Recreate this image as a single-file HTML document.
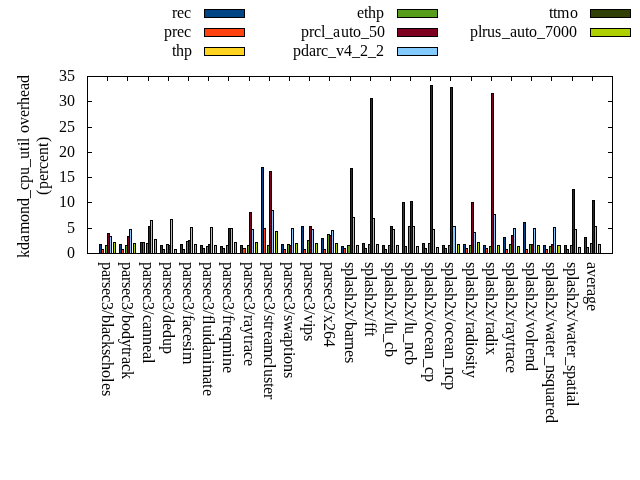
<!DOCTYPE html>
<html><head><meta charset="utf-8"><title>kdamond_cpu_util overhead</title>
<style>
html,body{margin:0;padding:0;background:#fff}
body{width:640px;height:480px;overflow:hidden}
svg{display:block;will-change:transform}
text{font-family:"Liberation Serif",serif;font-size:16px;fill:#000}
</style></head><body>
<svg width="640" height="480" viewBox="0 0 640 480">
<rect x="0" y="0" width="640" height="480" fill="#fff"/>
<g shape-rendering="crispEdges">
<rect x="99" y="244" width="3" height="10" fill="#000"/>
<rect x="100" y="245" width="1" height="8" fill="#004586"/>
<rect x="101" y="249" width="3" height="5" fill="#000"/>
<rect x="102" y="250" width="1" height="3" fill="#FF420E"/>
<rect x="105" y="245" width="3" height="9" fill="#000"/>
<rect x="106" y="246" width="1" height="7" fill="#579D1C"/>
<rect x="107" y="233" width="3" height="21" fill="#000"/>
<rect x="108" y="234" width="1" height="19" fill="#7E0021"/>
<rect x="109" y="236" width="3" height="18" fill="#000"/>
<rect x="110" y="237" width="1" height="16" fill="#83CAFF"/>
<rect x="113" y="242" width="3" height="12" fill="#000"/>
<rect x="114" y="243" width="1" height="10" fill="#AECF00"/>
<rect x="119" y="244" width="3" height="10" fill="#000"/>
<rect x="120" y="245" width="1" height="8" fill="#004586"/>
<rect x="121" y="249" width="3" height="5" fill="#000"/>
<rect x="122" y="250" width="1" height="3" fill="#FF420E"/>
<rect x="125" y="245" width="3" height="9" fill="#000"/>
<rect x="126" y="246" width="1" height="7" fill="#579D1C"/>
<rect x="127" y="236" width="3" height="18" fill="#000"/>
<rect x="128" y="237" width="1" height="16" fill="#7E0021"/>
<rect x="129" y="229" width="3" height="25" fill="#000"/>
<rect x="130" y="230" width="1" height="23" fill="#83CAFF"/>
<rect x="133" y="243" width="3" height="11" fill="#000"/>
<rect x="134" y="244" width="1" height="9" fill="#AECF00"/>
<rect x="140" y="242" width="3" height="12" fill="#000"/>
<rect x="141" y="243" width="1" height="10" fill="#004586"/>
<rect x="142" y="242" width="3" height="12" fill="#000"/>
<rect x="143" y="243" width="1" height="10" fill="#FF420E"/>
<rect x="146" y="243" width="3" height="11" fill="#000"/>
<rect x="147" y="244" width="1" height="9" fill="#579D1C"/>
<rect x="148" y="226" width="3" height="28" fill="#000"/>
<rect x="149" y="227" width="1" height="26" fill="#7E0021"/>
<rect x="150" y="220" width="3" height="34" fill="#000"/>
<rect x="151" y="221" width="1" height="32" fill="#83CAFF"/>
<rect x="154" y="239" width="3" height="15" fill="#000"/>
<rect x="155" y="240" width="1" height="13" fill="#AECF00"/>
<rect x="160" y="245" width="3" height="9" fill="#000"/>
<rect x="161" y="246" width="1" height="7" fill="#004586"/>
<rect x="162" y="249" width="3" height="5" fill="#000"/>
<rect x="163" y="250" width="1" height="3" fill="#FF420E"/>
<rect x="166" y="244" width="3" height="10" fill="#000"/>
<rect x="167" y="245" width="1" height="8" fill="#579D1C"/>
<rect x="168" y="245" width="3" height="9" fill="#000"/>
<rect x="169" y="246" width="1" height="7" fill="#7E0021"/>
<rect x="170" y="219" width="3" height="35" fill="#000"/>
<rect x="171" y="220" width="1" height="33" fill="#83CAFF"/>
<rect x="174" y="249" width="3" height="5" fill="#000"/>
<rect x="175" y="250" width="1" height="3" fill="#AECF00"/>
<rect x="180" y="244" width="3" height="10" fill="#000"/>
<rect x="181" y="245" width="1" height="8" fill="#004586"/>
<rect x="182" y="249" width="3" height="5" fill="#000"/>
<rect x="183" y="250" width="1" height="3" fill="#FF420E"/>
<rect x="186" y="241" width="3" height="13" fill="#000"/>
<rect x="187" y="242" width="1" height="11" fill="#579D1C"/>
<rect x="188" y="240" width="3" height="14" fill="#000"/>
<rect x="189" y="241" width="1" height="12" fill="#7E0021"/>
<rect x="190" y="227" width="3" height="27" fill="#000"/>
<rect x="191" y="228" width="1" height="25" fill="#83CAFF"/>
<rect x="194" y="244" width="3" height="10" fill="#000"/>
<rect x="195" y="245" width="1" height="8" fill="#AECF00"/>
<rect x="200" y="245" width="3" height="9" fill="#000"/>
<rect x="201" y="246" width="1" height="7" fill="#004586"/>
<rect x="202" y="248" width="3" height="6" fill="#000"/>
<rect x="203" y="249" width="1" height="4" fill="#FF420E"/>
<rect x="206" y="246" width="3" height="8" fill="#000"/>
<rect x="207" y="247" width="1" height="6" fill="#579D1C"/>
<rect x="208" y="244" width="3" height="10" fill="#000"/>
<rect x="209" y="245" width="1" height="8" fill="#7E0021"/>
<rect x="210" y="227" width="3" height="27" fill="#000"/>
<rect x="211" y="228" width="1" height="25" fill="#83CAFF"/>
<rect x="214" y="245" width="3" height="9" fill="#000"/>
<rect x="215" y="246" width="1" height="7" fill="#AECF00"/>
<rect x="220" y="246" width="3" height="8" fill="#000"/>
<rect x="221" y="247" width="1" height="6" fill="#004586"/>
<rect x="222" y="248" width="3" height="6" fill="#000"/>
<rect x="223" y="249" width="1" height="4" fill="#FF420E"/>
<rect x="226" y="245" width="3" height="9" fill="#000"/>
<rect x="227" y="246" width="1" height="7" fill="#579D1C"/>
<rect x="228" y="228" width="3" height="26" fill="#000"/>
<rect x="229" y="229" width="1" height="24" fill="#7E0021"/>
<rect x="230" y="228" width="3" height="26" fill="#000"/>
<rect x="231" y="229" width="1" height="24" fill="#83CAFF"/>
<rect x="234" y="242" width="3" height="12" fill="#000"/>
<rect x="235" y="243" width="1" height="10" fill="#AECF00"/>
<rect x="240" y="245" width="3" height="9" fill="#000"/>
<rect x="241" y="246" width="1" height="7" fill="#004586"/>
<rect x="242" y="248" width="4" height="6" fill="#000"/>
<rect x="243" y="249" width="2" height="4" fill="#FF420E"/>
<rect x="247" y="245" width="3" height="9" fill="#000"/>
<rect x="248" y="246" width="1" height="7" fill="#579D1C"/>
<rect x="249" y="212" width="3" height="42" fill="#000"/>
<rect x="250" y="213" width="1" height="40" fill="#7E0021"/>
<rect x="251" y="229" width="3" height="25" fill="#000"/>
<rect x="252" y="230" width="1" height="23" fill="#83CAFF"/>
<rect x="255" y="242" width="3" height="12" fill="#000"/>
<rect x="256" y="243" width="1" height="10" fill="#AECF00"/>
<rect x="261" y="167" width="3" height="87" fill="#000"/>
<rect x="262" y="168" width="1" height="85" fill="#004586"/>
<rect x="263" y="228" width="3" height="26" fill="#000"/>
<rect x="264" y="229" width="1" height="24" fill="#FF420E"/>
<rect x="267" y="245" width="3" height="9" fill="#000"/>
<rect x="268" y="246" width="1" height="7" fill="#579D1C"/>
<rect x="269" y="171" width="3" height="83" fill="#000"/>
<rect x="270" y="172" width="1" height="81" fill="#7E0021"/>
<rect x="271" y="210" width="3" height="44" fill="#000"/>
<rect x="272" y="211" width="1" height="42" fill="#83CAFF"/>
<rect x="275" y="231" width="3" height="23" fill="#000"/>
<rect x="276" y="232" width="1" height="21" fill="#AECF00"/>
<rect x="281" y="244" width="3" height="10" fill="#000"/>
<rect x="282" y="245" width="1" height="8" fill="#004586"/>
<rect x="283" y="249" width="3" height="5" fill="#000"/>
<rect x="284" y="250" width="1" height="3" fill="#FF420E"/>
<rect x="287" y="244" width="3" height="10" fill="#000"/>
<rect x="288" y="245" width="1" height="8" fill="#579D1C"/>
<rect x="289" y="245" width="3" height="9" fill="#000"/>
<rect x="290" y="246" width="1" height="7" fill="#7E0021"/>
<rect x="291" y="228" width="3" height="26" fill="#000"/>
<rect x="292" y="229" width="1" height="24" fill="#83CAFF"/>
<rect x="295" y="243" width="3" height="11" fill="#000"/>
<rect x="296" y="244" width="1" height="9" fill="#AECF00"/>
<rect x="301" y="226" width="3" height="28" fill="#000"/>
<rect x="302" y="227" width="1" height="26" fill="#004586"/>
<rect x="303" y="249" width="3" height="5" fill="#000"/>
<rect x="304" y="250" width="1" height="3" fill="#FF420E"/>
<rect x="307" y="240" width="3" height="14" fill="#000"/>
<rect x="308" y="241" width="1" height="12" fill="#579D1C"/>
<rect x="309" y="226" width="3" height="28" fill="#000"/>
<rect x="310" y="227" width="1" height="26" fill="#7E0021"/>
<rect x="311" y="229" width="3" height="25" fill="#000"/>
<rect x="312" y="230" width="1" height="23" fill="#83CAFF"/>
<rect x="315" y="243" width="3" height="11" fill="#000"/>
<rect x="316" y="244" width="1" height="9" fill="#AECF00"/>
<rect x="321" y="238" width="3" height="16" fill="#000"/>
<rect x="322" y="239" width="1" height="14" fill="#004586"/>
<rect x="323" y="249" width="3" height="5" fill="#000"/>
<rect x="324" y="250" width="1" height="3" fill="#FF420E"/>
<rect x="327" y="234" width="3" height="20" fill="#000"/>
<rect x="328" y="235" width="1" height="18" fill="#579D1C"/>
<rect x="329" y="235" width="3" height="19" fill="#000"/>
<rect x="330" y="236" width="1" height="17" fill="#7E0021"/>
<rect x="331" y="230" width="3" height="24" fill="#000"/>
<rect x="332" y="231" width="1" height="22" fill="#83CAFF"/>
<rect x="335" y="243" width="3" height="11" fill="#000"/>
<rect x="336" y="244" width="1" height="9" fill="#AECF00"/>
<rect x="341" y="246" width="3" height="8" fill="#000"/>
<rect x="342" y="247" width="1" height="6" fill="#004586"/>
<rect x="343" y="248" width="3" height="6" fill="#000"/>
<rect x="344" y="249" width="1" height="4" fill="#FF420E"/>
<rect x="347" y="245" width="4" height="9" fill="#000"/>
<rect x="348" y="246" width="2" height="7" fill="#579D1C"/>
<rect x="350" y="168" width="3" height="86" fill="#000"/>
<rect x="351" y="169" width="1" height="84" fill="#7E0021"/>
<rect x="352" y="217" width="3" height="37" fill="#000"/>
<rect x="353" y="218" width="1" height="35" fill="#83CAFF"/>
<rect x="356" y="245" width="3" height="9" fill="#000"/>
<rect x="357" y="246" width="1" height="7" fill="#AECF00"/>
<rect x="362" y="243" width="3" height="11" fill="#000"/>
<rect x="363" y="244" width="1" height="9" fill="#004586"/>
<rect x="364" y="248" width="3" height="6" fill="#000"/>
<rect x="365" y="249" width="1" height="4" fill="#FF420E"/>
<rect x="368" y="244" width="3" height="10" fill="#000"/>
<rect x="369" y="245" width="1" height="8" fill="#579D1C"/>
<rect x="370" y="98" width="3" height="156" fill="#000"/>
<rect x="371" y="99" width="1" height="154" fill="#7E0021"/>
<rect x="372" y="218" width="3" height="36" fill="#000"/>
<rect x="373" y="219" width="1" height="34" fill="#83CAFF"/>
<rect x="376" y="244" width="3" height="10" fill="#000"/>
<rect x="377" y="245" width="1" height="8" fill="#AECF00"/>
<rect x="382" y="245" width="3" height="9" fill="#000"/>
<rect x="383" y="246" width="1" height="7" fill="#004586"/>
<rect x="384" y="249" width="3" height="5" fill="#000"/>
<rect x="385" y="250" width="1" height="3" fill="#FF420E"/>
<rect x="388" y="245" width="3" height="9" fill="#000"/>
<rect x="389" y="246" width="1" height="7" fill="#579D1C"/>
<rect x="390" y="226" width="3" height="28" fill="#000"/>
<rect x="391" y="227" width="1" height="26" fill="#7E0021"/>
<rect x="392" y="229" width="3" height="25" fill="#000"/>
<rect x="393" y="230" width="1" height="23" fill="#83CAFF"/>
<rect x="396" y="245" width="3" height="9" fill="#000"/>
<rect x="397" y="246" width="1" height="7" fill="#AECF00"/>
<rect x="402" y="202" width="3" height="52" fill="#000"/>
<rect x="403" y="203" width="1" height="50" fill="#004586"/>
<rect x="404" y="246" width="3" height="8" fill="#000"/>
<rect x="405" y="247" width="1" height="6" fill="#FF420E"/>
<rect x="408" y="226" width="3" height="28" fill="#000"/>
<rect x="409" y="227" width="1" height="26" fill="#579D1C"/>
<rect x="410" y="201" width="3" height="53" fill="#000"/>
<rect x="411" y="202" width="1" height="51" fill="#7E0021"/>
<rect x="412" y="226" width="3" height="28" fill="#000"/>
<rect x="413" y="227" width="1" height="26" fill="#83CAFF"/>
<rect x="416" y="246" width="3" height="8" fill="#000"/>
<rect x="417" y="247" width="1" height="6" fill="#AECF00"/>
<rect x="422" y="243" width="3" height="11" fill="#000"/>
<rect x="423" y="244" width="1" height="9" fill="#004586"/>
<rect x="424" y="248" width="3" height="6" fill="#000"/>
<rect x="425" y="249" width="1" height="4" fill="#FF420E"/>
<rect x="428" y="243" width="3" height="11" fill="#000"/>
<rect x="429" y="244" width="1" height="9" fill="#579D1C"/>
<rect x="430" y="85" width="3" height="169" fill="#000"/>
<rect x="431" y="86" width="1" height="167" fill="#7E0021"/>
<rect x="432" y="229" width="3" height="25" fill="#000"/>
<rect x="433" y="230" width="1" height="23" fill="#83CAFF"/>
<rect x="436" y="247" width="3" height="7" fill="#000"/>
<rect x="437" y="248" width="1" height="5" fill="#AECF00"/>
<rect x="442" y="245" width="3" height="9" fill="#000"/>
<rect x="443" y="246" width="1" height="7" fill="#004586"/>
<rect x="444" y="248" width="3" height="6" fill="#000"/>
<rect x="445" y="249" width="1" height="4" fill="#FF420E"/>
<rect x="448" y="245" width="3" height="9" fill="#000"/>
<rect x="449" y="246" width="1" height="7" fill="#579D1C"/>
<rect x="450" y="87" width="3" height="167" fill="#000"/>
<rect x="451" y="88" width="1" height="165" fill="#7E0021"/>
<rect x="452" y="226" width="4" height="28" fill="#000"/>
<rect x="453" y="227" width="2" height="26" fill="#83CAFF"/>
<rect x="457" y="244" width="3" height="10" fill="#000"/>
<rect x="458" y="245" width="1" height="8" fill="#AECF00"/>
<rect x="463" y="244" width="3" height="10" fill="#000"/>
<rect x="464" y="245" width="1" height="8" fill="#004586"/>
<rect x="465" y="248" width="3" height="6" fill="#000"/>
<rect x="466" y="249" width="1" height="4" fill="#FF420E"/>
<rect x="469" y="245" width="3" height="9" fill="#000"/>
<rect x="470" y="246" width="1" height="7" fill="#579D1C"/>
<rect x="471" y="202" width="3" height="52" fill="#000"/>
<rect x="472" y="203" width="1" height="50" fill="#7E0021"/>
<rect x="473" y="232" width="3" height="22" fill="#000"/>
<rect x="474" y="233" width="1" height="20" fill="#83CAFF"/>
<rect x="477" y="242" width="3" height="12" fill="#000"/>
<rect x="478" y="243" width="1" height="10" fill="#AECF00"/>
<rect x="483" y="245" width="3" height="9" fill="#000"/>
<rect x="484" y="246" width="1" height="7" fill="#004586"/>
<rect x="485" y="248" width="3" height="6" fill="#000"/>
<rect x="486" y="249" width="1" height="4" fill="#FF420E"/>
<rect x="489" y="246" width="3" height="8" fill="#000"/>
<rect x="490" y="247" width="1" height="6" fill="#579D1C"/>
<rect x="491" y="93" width="3" height="161" fill="#000"/>
<rect x="492" y="94" width="1" height="159" fill="#7E0021"/>
<rect x="493" y="214" width="3" height="40" fill="#000"/>
<rect x="494" y="215" width="1" height="38" fill="#83CAFF"/>
<rect x="497" y="245" width="3" height="9" fill="#000"/>
<rect x="498" y="246" width="1" height="7" fill="#AECF00"/>
<rect x="503" y="237" width="3" height="17" fill="#000"/>
<rect x="504" y="238" width="1" height="15" fill="#004586"/>
<rect x="505" y="249" width="3" height="5" fill="#000"/>
<rect x="506" y="250" width="1" height="3" fill="#FF420E"/>
<rect x="509" y="244" width="3" height="10" fill="#000"/>
<rect x="510" y="245" width="1" height="8" fill="#579D1C"/>
<rect x="511" y="235" width="3" height="19" fill="#000"/>
<rect x="512" y="236" width="1" height="17" fill="#7E0021"/>
<rect x="513" y="228" width="3" height="26" fill="#000"/>
<rect x="514" y="229" width="1" height="24" fill="#83CAFF"/>
<rect x="517" y="246" width="3" height="8" fill="#000"/>
<rect x="518" y="247" width="1" height="6" fill="#AECF00"/>
<rect x="523" y="222" width="3" height="32" fill="#000"/>
<rect x="524" y="223" width="1" height="30" fill="#004586"/>
<rect x="525" y="249" width="3" height="5" fill="#000"/>
<rect x="526" y="250" width="1" height="3" fill="#FF420E"/>
<rect x="529" y="244" width="3" height="10" fill="#000"/>
<rect x="530" y="245" width="1" height="8" fill="#579D1C"/>
<rect x="531" y="244" width="3" height="10" fill="#000"/>
<rect x="532" y="245" width="1" height="8" fill="#7E0021"/>
<rect x="533" y="228" width="3" height="26" fill="#000"/>
<rect x="534" y="229" width="1" height="24" fill="#83CAFF"/>
<rect x="537" y="245" width="3" height="9" fill="#000"/>
<rect x="538" y="246" width="1" height="7" fill="#AECF00"/>
<rect x="543" y="245" width="3" height="9" fill="#000"/>
<rect x="544" y="246" width="1" height="7" fill="#004586"/>
<rect x="545" y="249" width="3" height="5" fill="#000"/>
<rect x="546" y="250" width="1" height="3" fill="#FF420E"/>
<rect x="549" y="246" width="3" height="8" fill="#000"/>
<rect x="550" y="247" width="1" height="6" fill="#579D1C"/>
<rect x="551" y="244" width="3" height="10" fill="#000"/>
<rect x="552" y="245" width="1" height="8" fill="#7E0021"/>
<rect x="553" y="227" width="3" height="27" fill="#000"/>
<rect x="554" y="228" width="1" height="25" fill="#83CAFF"/>
<rect x="557" y="245" width="4" height="9" fill="#000"/>
<rect x="558" y="246" width="2" height="7" fill="#AECF00"/>
<rect x="564" y="245" width="3" height="9" fill="#000"/>
<rect x="565" y="246" width="1" height="7" fill="#004586"/>
<rect x="566" y="249" width="3" height="5" fill="#000"/>
<rect x="567" y="250" width="1" height="3" fill="#FF420E"/>
<rect x="570" y="245" width="3" height="9" fill="#000"/>
<rect x="571" y="246" width="1" height="7" fill="#579D1C"/>
<rect x="572" y="189" width="3" height="65" fill="#000"/>
<rect x="573" y="190" width="1" height="63" fill="#7E0021"/>
<rect x="574" y="229" width="3" height="25" fill="#000"/>
<rect x="575" y="230" width="1" height="23" fill="#83CAFF"/>
<rect x="578" y="247" width="3" height="7" fill="#000"/>
<rect x="579" y="248" width="1" height="5" fill="#AECF00"/>
<rect x="584" y="237" width="3" height="17" fill="#000"/>
<rect x="585" y="238" width="1" height="15" fill="#004586"/>
<rect x="586" y="247" width="3" height="7" fill="#000"/>
<rect x="587" y="248" width="1" height="5" fill="#FF420E"/>
<rect x="590" y="243" width="3" height="11" fill="#000"/>
<rect x="591" y="244" width="1" height="9" fill="#579D1C"/>
<rect x="592" y="200" width="3" height="54" fill="#000"/>
<rect x="593" y="201" width="1" height="52" fill="#7E0021"/>
<rect x="594" y="226" width="3" height="28" fill="#000"/>
<rect x="595" y="227" width="1" height="26" fill="#83CAFF"/>
<rect x="598" y="244" width="3" height="10" fill="#000"/>
<rect x="599" y="245" width="1" height="8" fill="#AECF00"/>
<rect x="87" y="76" width="526" height="1" fill="#000"/>
<rect x="87" y="253" width="526" height="1" fill="#000"/>
<rect x="87" y="76" width="1" height="178" fill="#000"/>
<rect x="612" y="76" width="1" height="178" fill="#000"/>
<rect x="87" y="253" width="5" height="1" fill="#000"/>
<rect x="608" y="253" width="5" height="1" fill="#000"/>
<rect x="87" y="228" width="5" height="1" fill="#000"/>
<rect x="608" y="228" width="5" height="1" fill="#000"/>
<rect x="87" y="202" width="5" height="1" fill="#000"/>
<rect x="608" y="202" width="5" height="1" fill="#000"/>
<rect x="87" y="177" width="5" height="1" fill="#000"/>
<rect x="608" y="177" width="5" height="1" fill="#000"/>
<rect x="87" y="152" width="5" height="1" fill="#000"/>
<rect x="608" y="152" width="5" height="1" fill="#000"/>
<rect x="87" y="127" width="5" height="1" fill="#000"/>
<rect x="608" y="127" width="5" height="1" fill="#000"/>
<rect x="87" y="101" width="5" height="1" fill="#000"/>
<rect x="608" y="101" width="5" height="1" fill="#000"/>
<rect x="87" y="76" width="5" height="1" fill="#000"/>
<rect x="608" y="76" width="5" height="1" fill="#000"/>
<rect x="107" y="76" width="1" height="5" fill="#000"/>
<rect x="107" y="249" width="1" height="5" fill="#000"/>
<rect x="127" y="76" width="1" height="5" fill="#000"/>
<rect x="127" y="249" width="1" height="5" fill="#000"/>
<rect x="148" y="76" width="1" height="5" fill="#000"/>
<rect x="148" y="249" width="1" height="5" fill="#000"/>
<rect x="168" y="76" width="1" height="5" fill="#000"/>
<rect x="168" y="249" width="1" height="5" fill="#000"/>
<rect x="188" y="76" width="1" height="5" fill="#000"/>
<rect x="188" y="249" width="1" height="5" fill="#000"/>
<rect x="208" y="76" width="1" height="5" fill="#000"/>
<rect x="208" y="249" width="1" height="5" fill="#000"/>
<rect x="228" y="76" width="1" height="5" fill="#000"/>
<rect x="228" y="249" width="1" height="5" fill="#000"/>
<rect x="249" y="76" width="1" height="5" fill="#000"/>
<rect x="249" y="249" width="1" height="5" fill="#000"/>
<rect x="269" y="76" width="1" height="5" fill="#000"/>
<rect x="269" y="249" width="1" height="5" fill="#000"/>
<rect x="289" y="76" width="1" height="5" fill="#000"/>
<rect x="289" y="249" width="1" height="5" fill="#000"/>
<rect x="309" y="76" width="1" height="5" fill="#000"/>
<rect x="309" y="249" width="1" height="5" fill="#000"/>
<rect x="329" y="76" width="1" height="5" fill="#000"/>
<rect x="329" y="249" width="1" height="5" fill="#000"/>
<rect x="350" y="76" width="1" height="5" fill="#000"/>
<rect x="350" y="249" width="1" height="5" fill="#000"/>
<rect x="370" y="76" width="1" height="5" fill="#000"/>
<rect x="370" y="249" width="1" height="5" fill="#000"/>
<rect x="390" y="76" width="1" height="5" fill="#000"/>
<rect x="390" y="249" width="1" height="5" fill="#000"/>
<rect x="410" y="76" width="1" height="5" fill="#000"/>
<rect x="410" y="249" width="1" height="5" fill="#000"/>
<rect x="430" y="76" width="1" height="5" fill="#000"/>
<rect x="430" y="249" width="1" height="5" fill="#000"/>
<rect x="450" y="76" width="1" height="5" fill="#000"/>
<rect x="450" y="249" width="1" height="5" fill="#000"/>
<rect x="471" y="76" width="1" height="5" fill="#000"/>
<rect x="471" y="249" width="1" height="5" fill="#000"/>
<rect x="491" y="76" width="1" height="5" fill="#000"/>
<rect x="491" y="249" width="1" height="5" fill="#000"/>
<rect x="511" y="76" width="1" height="5" fill="#000"/>
<rect x="511" y="249" width="1" height="5" fill="#000"/>
<rect x="531" y="76" width="1" height="5" fill="#000"/>
<rect x="531" y="249" width="1" height="5" fill="#000"/>
<rect x="551" y="76" width="1" height="5" fill="#000"/>
<rect x="551" y="249" width="1" height="5" fill="#000"/>
<rect x="572" y="76" width="1" height="5" fill="#000"/>
<rect x="572" y="249" width="1" height="5" fill="#000"/>
<rect x="592" y="76" width="1" height="5" fill="#000"/>
<rect x="592" y="249" width="1" height="5" fill="#000"/>
<rect x="204" y="9" width="41" height="9" fill="#000"/>
<rect x="205" y="10" width="39" height="7" fill="#004586"/>
<rect x="204" y="28" width="41" height="9" fill="#000"/>
<rect x="205" y="29" width="39" height="7" fill="#FF420E"/>
<rect x="204" y="47" width="41" height="9" fill="#000"/>
<rect x="205" y="48" width="39" height="7" fill="#FFD320"/>
<rect x="397" y="9" width="41" height="9" fill="#000"/>
<rect x="398" y="10" width="39" height="7" fill="#579D1C"/>
<rect x="397" y="28" width="41" height="9" fill="#000"/>
<rect x="398" y="29" width="39" height="7" fill="#7E0021"/>
<rect x="397" y="47" width="41" height="9" fill="#000"/>
<rect x="398" y="48" width="39" height="7" fill="#83CAFF"/>
<rect x="590" y="9" width="41" height="9" fill="#000"/>
<rect x="591" y="10" width="39" height="7" fill="#314004"/>
<rect x="590" y="28" width="41" height="9" fill="#000"/>
<rect x="591" y="29" width="39" height="7" fill="#AECF00"/>
</g>
<text x="172 177 184" y="18">rec</text>
<text x="164 172 177 184" y="37">prec</text>
<text x="172 176 184" y="56">thp</text>
<text x="357 364 368 376" y="18">ethp</text>
<text x="301 309 314 321 325 333 341 349 353 361 369 377" y="37">prcl_auto_50</text>
<text x="293 301 309 316 321 328 336 344 352 360 368 376" y="56">pdarc_v4_2_2</text>
<text x="549 553 557 570" y="18">ttmo</text>
<text x="470 478 482 487 495 502 510 517 525 529 537 545 553 561 569" y="37">plrus_auto_7000</text>
<text x="67" y="258">0</text>
<text x="67" y="233">5</text>
<text x="59 67" y="207">10</text>
<text x="59 67" y="182">15</text>
<text x="59 67" y="157">20</text>
<text x="59 67" y="132">25</text>
<text x="59 67" y="106">30</text>
<text x="59 67" y="81">35</text>
<text transform="translate(29,258) rotate(-90)" x="0 8 16 24 36 44 52 60 68 75 83 91 99 107 112 116 120 125 133 141 148 153 161 168 175" y="0">kdamond_cpu_util overhead</text>
<text transform="translate(48,195) rotate(-90)" x="0 6 14 21 26 33 40 48 53" y="0">(percent)</text>
<text transform="translate(102,262) rotate(90)" x="0 8 15 20 26 33 40 48 53 61 65 72 79 87 93 100 108 116 121 128" y="0">parsec3/blackscholes</text>
<text transform="translate(122,262) rotate(90)" x="0 8 15 20 26 33 40 48 53 61 69 77 85 89 95 102 109" y="0">parsec3/bodytrack</text>
<text transform="translate(143,262) rotate(90)" x="0 8 15 20 26 33 40 48 53 60 67 75 83 90 97" y="0">parsec3/canneal</text>
<text transform="translate(163,262) rotate(90)" x="0 8 15 20 26 33 40 48 53 61 68 76 84" y="0">parsec3/dedup</text>
<text transform="translate(183,262) rotate(90)" x="0 8 15 20 26 33 40 48 53 58 65 72 79 85 90" y="0">parsec3/facesim</text>
<text transform="translate(203,262) rotate(90)" x="0 8 15 20 26 33 40 48 53 58 63 71 75 83 90 98 103 115 122 127" y="0">parsec3/fluidanimate</text>
<text transform="translate(223,262) rotate(90)" x="0 8 15 20 26 33 40 48 53 58 64 71 79 91 96 104" y="0">parsec3/freqmine</text>
<text transform="translate(244,262) rotate(90)" x="0 8 15 20 26 33 40 48 53 58 65 73 78 83 90 97" y="0">parsec3/raytrace</text>
<text transform="translate(264,262) rotate(90)" x="0 8 15 20 26 33 40 48 53 59 63 69 76 83 95 102 107 115 121 125 132" y="0">parsec3/streamcluster</text>
<text transform="translate(284,262) rotate(90)" x="0 8 15 20 26 33 40 48 53 59 70 77 85 90 94 102 110" y="0">parsec3/swaptions</text>
<text transform="translate(304,262) rotate(90)" x="0 8 15 20 26 33 40 48 53 61 65 73" y="0">parsec3/vips</text>
<text transform="translate(324,262) rotate(90)" x="0 8 15 20 26 33 40 48 53 61 69 77" y="0">parsec3/x264</text>
<text transform="translate(345,262) rotate(90)" x="0 6 14 18 25 31 39 47 55 60 68 75 80 88 95" y="0">splash2x/barnes</text>
<text transform="translate(365,262) rotate(90)" x="0 6 14 18 25 31 39 47 55 60 65 70" y="0">splash2x/fft</text>
<text transform="translate(385,262) rotate(90)" x="0 6 14 18 25 31 39 47 55 60 64 72 80 87" y="0">splash2x/lu_cb</text>
<text transform="translate(405,262) rotate(90)" x="0 6 14 18 25 31 39 47 55 60 64 72 80 88 95" y="0">splash2x/lu_ncb</text>
<text transform="translate(425,262) rotate(90)" x="0 6 14 18 25 31 39 47 55 60 68 75 82 89 97 105 112" y="0">splash2x/ocean_cp</text>
<text transform="translate(445,262) rotate(90)" x="0 6 14 18 25 31 39 47 55 60 68 75 82 89 97 105 113 120" y="0">splash2x/ocean_ncp</text>
<text transform="translate(466,262) rotate(90)" x="0 6 14 18 25 31 39 47 55 60 65 72 80 85 93 99 103 108" y="0">splash2x/radiosity</text>
<text transform="translate(486,262) rotate(90)" x="0 6 14 18 25 31 39 47 55 60 65 72 80 85" y="0">splash2x/radix</text>
<text transform="translate(506,262) rotate(90)" x="0 6 14 18 25 31 39 47 55 60 65 72 80 85 90 97 104" y="0">splash2x/raytrace</text>
<text transform="translate(526,262) rotate(90)" x="0 6 14 18 25 31 39 47 55 60 68 76 80 86 93 101" y="0">splash2x/volrend</text>
<text transform="translate(546,262) rotate(90)" x="0 6 14 18 25 31 39 47 55 60 71 78 83 90 95 103 111 117 125 133 140 146 153" y="0">splash2x/water_nsquared</text>
<text transform="translate(567,262) rotate(90)" x="0 6 14 18 25 31 39 47 55 60 71 78 83 90 95 103 109 117 124 129 133 140" y="0">splash2x/water_spatial</text>
<text transform="translate(587,262) rotate(90)" x="0 7 15 22 27 34 42" y="0">average</text>
</svg></body></html>
